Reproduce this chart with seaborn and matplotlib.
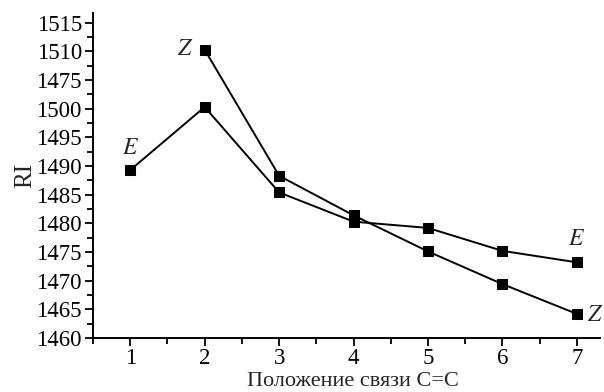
import matplotlib
matplotlib.use("Agg")
import matplotlib.pyplot as plt
import seaborn as sns
import pandas as pd
from matplotlib.ticker import MultipleLocator, FixedLocator

sns.set_theme(style="ticks")
plt.rcParams['font.family'] = ['Liberation Serif', 'DejaVu Serif']
plt.rcParams['mathtext.fontset'] = 'stix'

positions_e = [1, 2, 3, 4, 5, 6, 7]
ri_e = [1489.3, 1500.3, 1485.4, 1480.3, 1479.2, 1475.2, 1473.2]
positions_z = [2, 3, 4, 5, 6, 7]
ri_z = [1510.3, 1488.3, 1481.4, 1475.1, 1469.4, 1464.2]
y_ticks = [1460, 1465, 1470, 1475, 1480, 1485, 1490, 1495, 1500, 1505, 1510, 1515]
y_tick_labels = ["1460", "1465", "1470", "1475", "1480", "1485", "1490", "1495", "1500", "1475", "1510", "1515"]
x_ticks = [1, 2, 3, 4, 5, 6, 7]

df = pd.concat([
    pd.DataFrame({"pos": positions_e, "RI": ri_e, "isomer": "E"}),
    pd.DataFrame({"pos": positions_z, "RI": ri_z, "isomer": "Z"}),
])

fig = plt.figure(figsize=(6.04, 3.92), dpi=100)
ax = fig.add_axes([93/604, 1 - 338/392, (600-93)/604, (338-13)/392])
sns.lineplot(data=df, x="pos", y="RI", units="isomer", estimator=None,
             color="black", lw=1.4, marker="s", markersize=7.5,
             markeredgecolor="black", markerfacecolor="black", ax=ax, legend=False)

ax.set_xlim(0.5, 7.31)
ax.set_ylim(1460, 1516.7)
ax.xaxis.set_major_locator(FixedLocator(x_ticks))
ax.xaxis.set_minor_locator(MultipleLocator(0.5))
ax.yaxis.set_major_locator(FixedLocator(y_ticks))
ax.set_yticklabels(y_tick_labels)
ax.yaxis.set_minor_locator(MultipleLocator(2.5))
for s in ["top", "right"]:
    ax.spines[s].set_visible(False)
for s in ["left", "bottom"]:
    ax.spines[s].set_linewidth(1.4)
    ax.spines[s].set_color("black")
ax.tick_params(which="major", direction="out", length=6, width=1.3, labelsize=16.5, colors="black", pad=2)
ax.tick_params(which="minor", direction="out", length=4, width=1.3, colors="black")
ax.tick_params(axis="x", which="major", pad=1.5)

ax.set_xlabel("Положение связи С=С", fontsize=16)
ax.xaxis.set_label_coords((353 - 93) / 507, -(381 - 338) / 325)
ax.xaxis.label.set_va("center")
ax.set_ylabel("RI", fontsize=18, labelpad=0)

ax.text(1, 1491.3, "$E$", fontsize=17, ha="center", va="bottom")
ax.text(1.85, 1510.3, "$Z$", fontsize=17, ha="right", va="center")
ax.text(7, 1475.3, "$E$", fontsize=17, ha="center", va="bottom")
ax.text(7.13, 1464.0, "$Z$", fontsize=17, ha="left", va="center")

fig.savefig("out.png", dpi=100)
